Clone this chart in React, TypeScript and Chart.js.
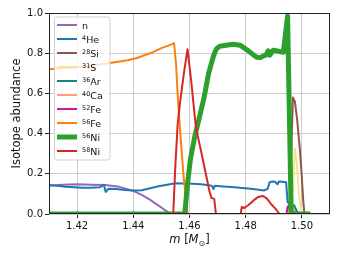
import React, { useEffect, useRef } from "react";
import { Chart, registerables } from "chart.js";
Chart.register(...registerables);

const xTicks = [1.42, 1.44, 1.46, 1.48, 1.5];
const yTicks = [0, 0.2, 0.4, 0.6, 0.8, 1.0];
const xLimits = [1.41, 1.51];
const yLimits = [0, 1];

const labelSup = ["", "4", "28", "31", "36", "40", "52", "56", "56", "58"];
const labelBase = ["n", "He", "Si", "S", "Ar", "Ca", "Fe", "Fe", "Ni", "Ni"];
const seriesColors = ["#9467bd", "#1f77b4", "#8c564b", "#f0e68c", "#138a80", "#ffa07a", "#d3159b", "#ff7f0e", "#2ca02c", "#d62728"];
const seriesWidths = [2, 2, 2, 2, 2, 2, 2, 2, 5, 2];

const nPts = [[1.405, 0.138], [1.41, 0.14], [1.415, 0.145], [1.42, 0.148], [1.425, 0.146], [1.43, 0.144], [1.435, 0.135], [1.44, 0.115], [1.443, 0.095], [1.446, 0.07], [1.449, 0.042], [1.451, 0.022], [1.453, 0.003], [1.4535, 0], [1.503, 0]];
const he4Pts = [[1.405, 0.146], [1.41, 0.144], [1.413, 0.14], [1.416, 0.135], [1.419, 0.133], [1.422, 0.13], [1.425, 0.131], [1.428, 0.133], [1.4295, 0.145], [1.4302, 0.11], [1.4312, 0.126], [1.434, 0.124], [1.437, 0.12], [1.44, 0.117], [1.443, 0.118], [1.446, 0.128], [1.449, 0.138], [1.452, 0.146], [1.455, 0.153], [1.458, 0.152], [1.461, 0.15], [1.464, 0.148], [1.467, 0.143], [1.468, 0.14], [1.4685, 0.124], [1.469, 0.14], [1.472, 0.137], [1.475, 0.134], [1.478, 0.13], [1.481, 0.127], [1.484, 0.122], [1.4865, 0.117], [1.4878, 0.125], [1.4885, 0.158], [1.4895, 0.162], [1.4905, 0.16], [1.4913, 0.148], [1.4918, 0.162], [1.493, 0.161], [1.4944, 0.158], [1.4949, 0.06], [1.4958, 0.048], [1.4968, 0.04], [1.4976, 0.015], [1.4982, 0], [1.503, 0]];
const si28Pts = [[1.405, 0], [1.4955, 0], [1.4962, 0.3], [1.4968, 0.58], [1.4975, 0.56], [1.4983, 0.47], [1.4993, 0.32], [1.4999, 0.2], [1.5004, 0.08], [1.5009, 0], [1.503, 0]];
const s31Pts = [[1.405, 0], [1.4962, 0], [1.4968, 0.15], [1.4975, 0.325], [1.4983, 0.235], [1.4988, 0.12], [1.4994, 0.045], [1.4999, 0.01], [1.5003, 0], [1.503, 0]];
const ar36Pts = [[1.405, 0], [1.4958, 0], [1.4965, 0.03], [1.4972, 0.045], [1.498, 0.02], [1.4986, 0], [1.503, 0]];
const ca40Pts = [[1.405, 0], [1.4953, 0], [1.4958, 0.06], [1.4964, 0.05], [1.4972, 0.02], [1.4978, 0], [1.503, 0]];
const fe52Pts = [[1.405, 0], [1.4945, 0], [1.4949, 0.035], [1.4953, 0.042], [1.4958, 0.02], [1.4962, 0], [1.503, 0]];
const fe56Pts = [[1.405, 0.716], [1.41, 0.72], [1.414, 0.724], [1.418, 0.728], [1.422, 0.733], [1.426, 0.74], [1.43, 0.748], [1.434, 0.756], [1.438, 0.765], [1.441, 0.775], [1.444, 0.79], [1.447, 0.805], [1.45, 0.825], [1.452, 0.835], [1.4538, 0.845], [1.4545, 0.85], [1.4552, 0.75], [1.4559, 0.565], [1.457, 0.35], [1.458, 0.17], [1.4589, 0.067], [1.4593, 0], [1.503, 0]];
const ni56Pts = [[1.405, 0], [1.4583, 0], [1.4593, 0.15], [1.4603, 0.27], [1.4618, 0.38], [1.4635, 0.48], [1.4652, 0.58], [1.4668, 0.7], [1.4685, 0.785], [1.4695, 0.82], [1.4708, 0.835], [1.473, 0.84], [1.4756, 0.845], [1.478, 0.84], [1.4803, 0.818], [1.482, 0.8], [1.4839, 0.78], [1.4852, 0.778], [1.4863, 0.787], [1.4872, 0.79], [1.488, 0.812], [1.4886, 0.79], [1.4898, 0.815], [1.4916, 0.81], [1.4934, 0.805], [1.4949, 0.985], [1.4962, 0], [1.503, 0]];
const ni58Pts = [[1.405, 0], [1.4542, 0], [1.455, 0.25], [1.4558, 0.45], [1.4566, 0.55], [1.458, 0.7], [1.4593, 0.82], [1.4607, 0.65], [1.4613, 0.565], [1.4623, 0.43], [1.4637, 0.34], [1.4655, 0.22], [1.467, 0.12], [1.4678, 0.08], [1.4688, 0.075], [1.4694, 0], [1.4782, 0], [1.4786, 0.035], [1.4795, 0.03], [1.481, 0.045], [1.483, 0.07], [1.4845, 0.085], [1.486, 0.09], [1.4875, 0.078], [1.489, 0.05], [1.4905, 0.028], [1.4915, 0.01], [1.492, 0], [1.503, 0]];

const allSeries = [nPts, he4Pts, si28Pts, s31Pts, ar36Pts, ca40Pts, fe52Pts, fe56Pts, ni56Pts, ni58Pts];

const FONT = "DejaVu Sans";

const overlayPlugin = {
  id: "overlay",
  afterDatasetsDraw(chart: any) {
    const { ctx, chartArea: a } = chart;
    ctx.save();
    // frame (spines)
    ctx.strokeStyle = "#222";
    ctx.lineWidth = 1;
    ctx.strokeRect(a.left + 0.5, a.top + 0.5, a.right - a.left - 1, a.bottom - a.top - 1);

    // legend
    const lx = 54.5, ly = 17, lw = 55.5, lh = 143;
    ctx.beginPath();
    ctx.roundRect(lx, ly, lw, lh, 2.5);
    ctx.fillStyle = "rgba(255,255,255,0.8)";
    ctx.fill();
    ctx.strokeStyle = "rgba(204,204,204,0.9)";
    ctx.lineWidth = 1;
    ctx.stroke();
    for (let i = 0; i < labelBase.length; i++) {
      const y = 25 + i * 14.0;
      ctx.beginPath();
      ctx.moveTo(57, y);
      ctx.lineTo(77, y);
      ctx.strokeStyle = seriesColors[i];
      ctx.lineWidth = seriesWidths[i];
      ctx.lineCap = "butt";
      ctx.stroke();
      let tx = 82;
      ctx.fillStyle = "#111";
      ctx.textAlign = "left";
      ctx.textBaseline = "alphabetic";
      if (labelSup[i]) {
        ctx.font = `6.5px "${FONT}"`;
        ctx.fillText(labelSup[i], tx, y + 0.5);
        tx += ctx.measureText(labelSup[i]).width;
      }
      ctx.font = `9.5px "${FONT}"`;
      ctx.fillText(labelBase[i], tx, y + 3.5);
    }

    // y label
    ctx.save();
    ctx.translate(17, (a.top + a.bottom) / 2);
    ctx.rotate(-Math.PI / 2);
    ctx.font = `11.5px "${FONT}"`;
    ctx.textAlign = "center";
    ctx.textBaseline = "middle";
    ctx.fillStyle = "#111";
    ctx.fillText("Isotope abundance", 0, 0);
    ctx.restore();

    // x label: m [M_sun]
    const parts = [
      { t: "m", f: `italic 11.5px "${FONT}"`, dy: 0 },
      { t: " [", f: `11.5px "${FONT}"`, dy: 0 },
      { t: "M", f: `italic 11.5px "${FONT}"`, dy: 0 },
      { t: "⊙", f: `8px "${FONT}"`, dy: 2.5 },
      { t: "]", f: `11.5px "${FONT}"`, dy: 0 },
    ];
    let total = 0;
    for (const p of parts) {
      ctx.font = p.f;
      total += ctx.measureText(p.t).width;
    }
    let x = (a.left + a.right) / 2 - total / 2;
    const base = 243;
    ctx.textAlign = "left";
    ctx.textBaseline = "alphabetic";
    ctx.fillStyle = "#111";
    for (const p of parts) {
      ctx.font = p.f;
      ctx.fillText(p.t, x, base + p.dy);
      x += ctx.measureText(p.t).width;
    }
    ctx.restore();
  },
};

export default function App() {
  const ref = useRef<HTMLCanvasElement | null>(null);
  useEffect(() => {
    if (!ref.current) return;
    const n = allSeries.length;
    const chart = new Chart(ref.current, {
      type: "line",
      data: {
        datasets: allSeries.map((pts, i) => ({
          label: labelSup[i] + labelBase[i],
          data: pts.map(([x, y]) => ({ x, y })),
          borderColor: seriesColors[i],
          backgroundColor: seriesColors[i],
          borderWidth: seriesWidths[i],
          pointRadius: 0,
          tension: 0,
          fill: false,
          clip: 0,
          order: n - i,
          borderJoinStyle: "round",
        })),
      },
      options: {
        responsive: false,
        animation: false,
        events: [],
        layout: { padding: { top: 13, right: 12, left: 0, bottom: 0 } },
        plugins: { legend: { display: false }, tooltip: { enabled: false } },
        scales: {
          x: {
            type: "linear",
            min: xLimits[0],
            max: xLimits[1],
            afterBuildTicks: (s: any) => {
              s.ticks = xTicks.map((v) => ({ value: v }));
            },
            afterFit: (s: any) => {
              s.height = 43;
            },
            grid: { color: "#cccccc", lineWidth: 1, tickColor: "#222", tickLength: 4, drawTicks: true },
            border: { display: false },
            ticks: {
              color: "#111",
              font: { family: FONT, size: 10 },
              padding: 2,
              maxRotation: 0,
              autoSkip: false,
              callback: (v: any) => Number(v).toFixed(2),
            },
          },
          y: {
            type: "linear",
            min: yLimits[0],
            max: yLimits[1],
            afterBuildTicks: (s: any) => {
              s.ticks = yTicks.map((v) => ({ value: v }));
            },
            afterFit: (s: any) => {
              s.width = 49;
            },
            grid: { color: "#cccccc", lineWidth: 1, tickColor: "#222", tickLength: 4, drawTicks: true },
            border: { display: false },
            ticks: {
              color: "#111",
              font: { family: FONT, size: 10 },
              padding: 2,
              autoSkip: false,
              callback: (v: any) => Number(v).toFixed(1),
            },
          },
        },
      },
      plugins: [overlayPlugin],
    });
    return () => chart.destroy();
  }, []);
  return (
    <div style={{ position: "fixed", left: 0, top: 0, width: 342, height: 257, background: "#fff" }}>
      <canvas ref={ref} width={342} height={257} style={{ width: 342, height: 257, display: "block" }} />
    </div>
  );
}
